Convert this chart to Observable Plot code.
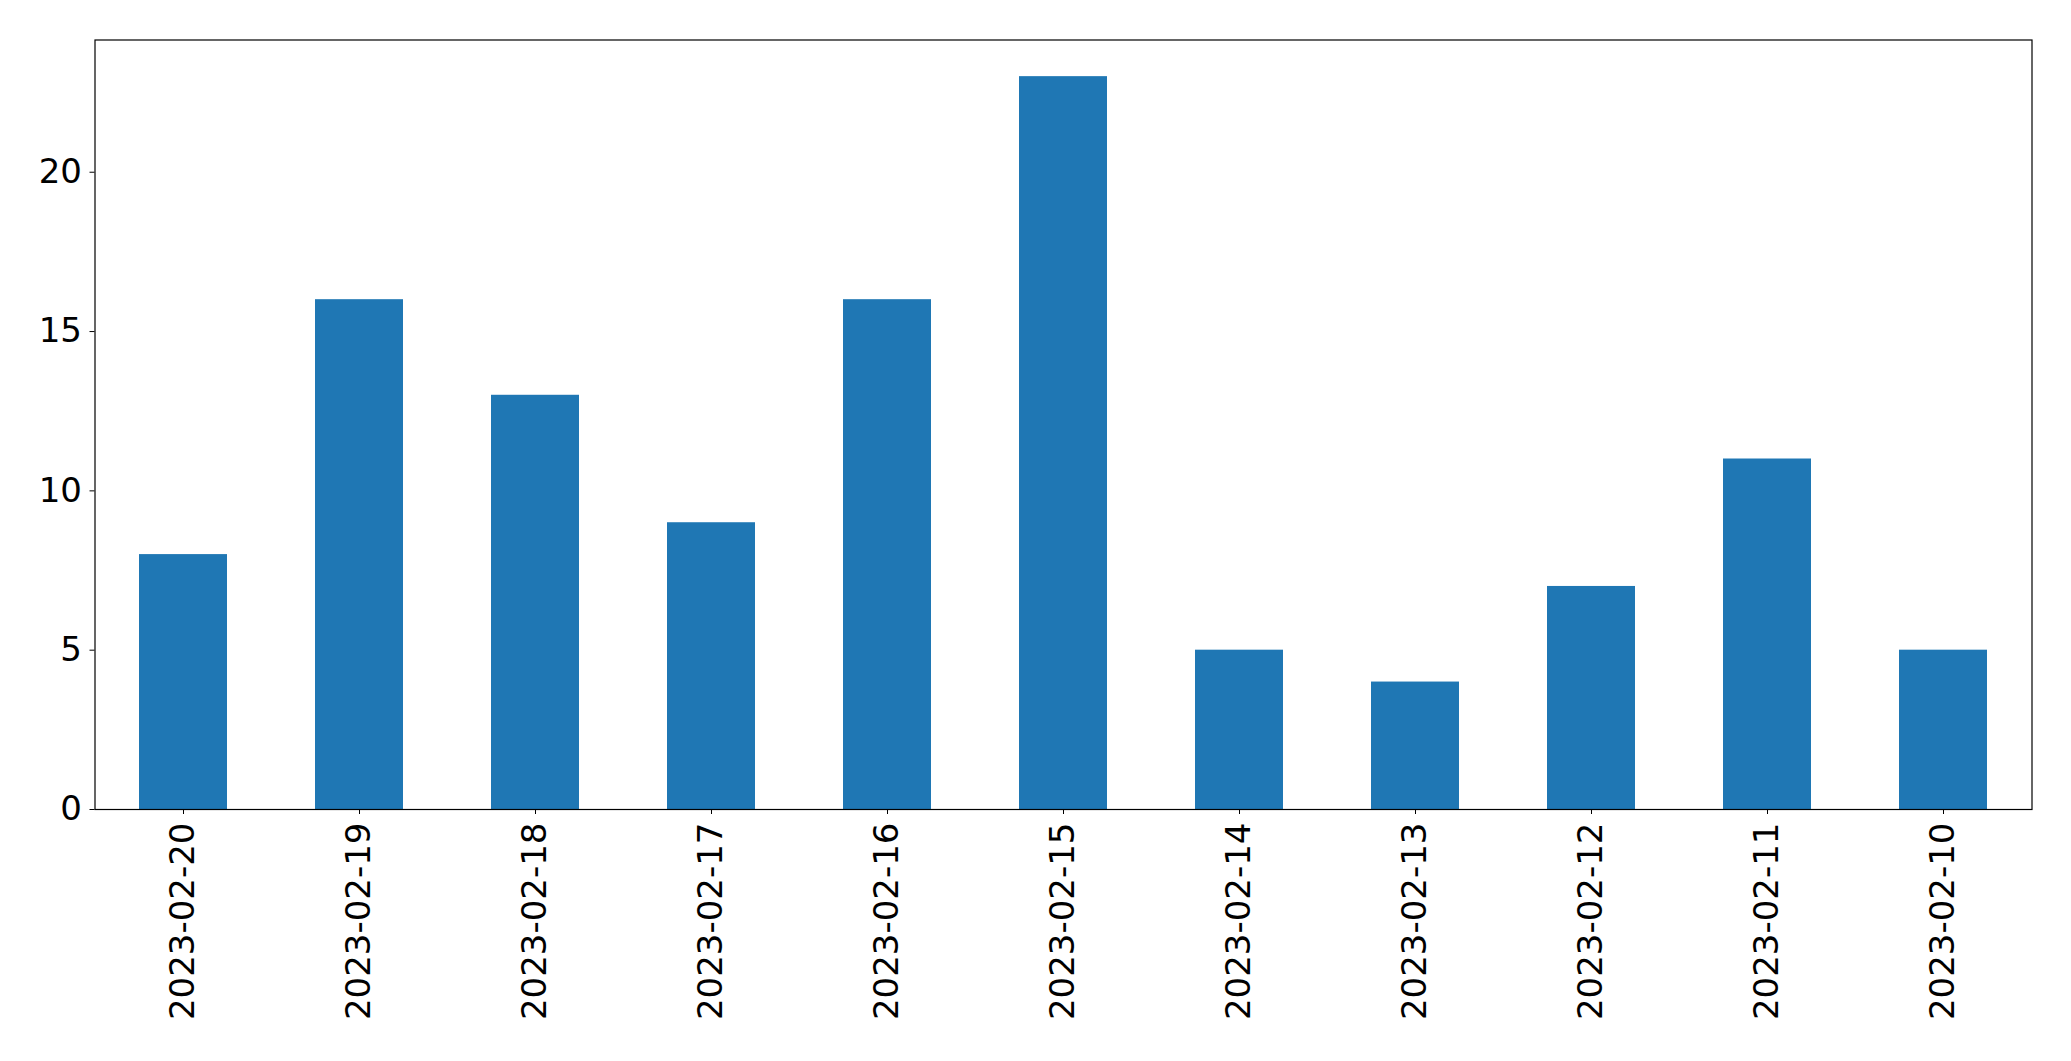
<!DOCTYPE html>
<html>
<head>
<meta charset="utf-8">
<script src="https://cdn.jsdelivr.net/npm/d3@7"></script>
<script src="https://cdn.jsdelivr.net/npm/@observablehq/plot@0.6"></script>
<style>
  html, body { margin: 0; padding: 0; background: white; overflow: hidden; }
  svg { display: block; }
</style>
</head>
<body>
<div id="chart"></div>
<script>
const dates = ["2023-02-20","2023-02-19","2023-02-18","2023-02-17","2023-02-16","2023-02-15","2023-02-14","2023-02-13","2023-02-12","2023-02-11","2023-02-10"];
const counts = [8, 16, 13, 9, 16, 23, 5, 4, 7, 11, 5];
const yTicks = [0, 5, 10, 15, 20];

const data = dates.map((d, i) => ({date: d, count: counts[i]}));

const chart = Plot.plot({
  width: 2071,
  height: 1061,
  marginLeft: 94.5,
  marginRight: 39.5,
  marginTop: 39.5,
  marginBottom: 252,
  style: {fontFamily: "DejaVu Sans", fontSize: "34px", color: "black", background: "white"},
  x: {domain: dates, paddingInner: 0.5, paddingOuter: 0.25},
  y: {domain: [0, 24.15]},
  marks: [
    Plot.barY(data, {x: "date", y: "count", fill: "#1f77b4"}),
    Plot.axisY({ticks: yTicks, tickSize: 5, tickPadding: 8, label: null, fontSize: 34}),
    Plot.axisX({tickSize: 5, tickPadding: 8, tickRotate: -90, label: null, fontSize: 34}),
    Plot.frame({stroke: "black", strokeWidth: 1.2})
  ]
});
document.getElementById("chart").appendChild(chart);
</script>
</body>
</html>
